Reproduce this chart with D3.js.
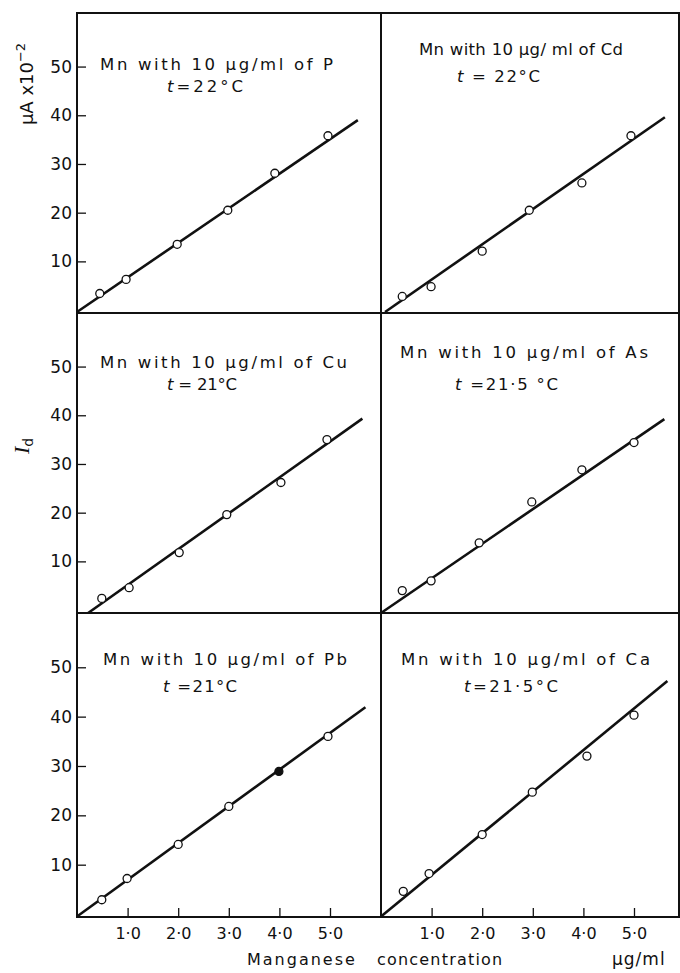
<!DOCTYPE html>
<html>
<head>
<meta charset="utf-8">
<script src="https://d3js.org/d3.v7.min.js"></script>
<style>
  body { margin: 0; background: #fff; }
  text { font-family: "DejaVu Sans", sans-serif; fill: #111; }
</style>
</head>
<body>
<div id="chart"></div>
<script>
  // data
  var elements = ["P", "Cd", "Cu", "As", "Pb", "Ca"];
  var titles = ["Mn with 10 \u00b5g/ml of P", "Mn with 10 \u00b5g/ ml of Cd", "Mn with 10 \u00b5g/ml of Cu",
                "Mn with 10 \u00b5g/ml of As", "Mn with 10 \u00b5g/ml of Pb", "Mn with 10 \u00b5g/ml of Ca"];
  var temps = ["=22\u00b0C", " = 22\u00b0C", " = 21\u00b0C", " =21\u00b75 \u00b0C", " =21\u00b0C", "=21\u00b75\u00b0C"];

  var concP  = [0.45, 0.97, 1.98, 2.98, 3.91, 4.96];
  var concCd = [0.42, 0.99, 2.00, 2.93, 3.97, 4.94];
  var concCu = [0.49, 1.03, 2.02, 2.96, 4.03, 4.94];
  var concAs = [0.42, 0.99, 1.94, 2.98, 3.97, 5.00];
  var concPb = [0.49, 0.99, 2.00, 3.00, 3.99, 4.96];
  var concCa = [0.44, 0.95, 2.00, 2.99, 4.07, 5.00];

  var idP  = [3.4, 6.3, 13.5, 20.5, 28.1, 35.8];
  var idCd = [2.8, 4.8, 12.1, 20.5, 26.1, 35.8];
  var idCu = [2.4, 4.6, 11.8, 19.6, 26.2, 35.0];
  var idAs = [4.0, 6.0, 13.8, 22.2, 28.8, 34.4];
  var idPb = [2.9, 7.2, 14.1, 21.8, 28.9, 36.0];
  var idCa = [4.6, 8.2, 16.1, 24.7, 32.0, 40.3];

  // fitted line, start and end points [conc, Id]
  var lineP  = [[0, -0.4], [5.55, 39.0]];
  var lineCd = [[0.08, -0.4], [5.61, 39.6]];
  var lineCu = [[0.22, -0.6], [5.64, 39.3]];
  var lineAs = [[0, -0.6], [5.60, 39.2]];
  var linePb = [[0, -0.5], [5.70, 41.9]];
  var lineCa = [[0, -0.5], [5.66, 47.2]];

  var filledPb = [false, false, false, false, true, false];

  var concs = [concP, concCd, concCu, concAs, concPb, concCa];
  var ids = [idP, idCd, idCu, idAs, idPb, idCa];
  var fits = [lineP, lineCd, lineCu, lineAs, linePb, lineCa];

  var yTicks = [10, 20, 30, 40, 50];
  var xTicks = [1, 2, 3, 4, 5];
  var xTickLabels = ["1\u00b70", "2\u00b70", "3\u00b70", "4\u00b70", "5\u00b70"];

  // layout
  var colLeft = [77, 381], colW = [304, 298];
  var rowTop = [13, 313, 613], rowH = [300, 300, 304];
  var pxPerUnit = 50.6;
  // title offsets inside each panel: [x1, base1, w1, x2, base2, w2]
  var titlePos = [
    [23, 57, 233, 90, 79, 76],
    [38, 42, 204, 76, 69, 83],
    [23, 55, 247, 90, 77, 70],
    [19, 45, 248, 74, 77, 103],
    [26, 52, 244, 86, 79, 74],
    [20, 52, 249, 83, 79, 94]
  ];

  var svg = d3.select("#chart")
    .append("svg")
      .attr("width", 680)
      .attr("height", 973);

  elements.forEach(function(el, i) {
    var col = i % 2, row = Math.floor(i / 2);
    var w = colW[col], h = rowH[row];

    var x_scale = d3.scaleLinear()
      .domain([0, w / pxPerUnit])
      .range([0, w]);
    var y_scale = d3.scaleLinear()
      .domain([-0.6, 61])
      .range([h, 0]);

    var g = svg.append("g")
      .attr("transform", "translate(" + colLeft[col] + "," + rowTop[row] + ")");

    // y axis only in left column
    if (col == 0) {
      var y_axis = d3.axisLeft(y_scale)
        .tickValues(yTicks)
        .tickSizeInner(-9)
        .tickSizeOuter(0)
        .tickPadding(5)
        .tickFormat(d3.format("d"));
      var ya = g.append("g").call(y_axis);
      ya.select(".domain").remove();
      ya.selectAll("line").attr("stroke", "#111").attr("stroke-width", 1.3);
      ya.selectAll("text").attr("font-size", 17).attr("fill", "#111")
        .style("font-family", "'DejaVu Sans', sans-serif");
    }

    // x axis only in bottom row
    if (row == 2) {
      var x_axis = d3.axisBottom(x_scale)
        .tickValues(xTicks)
        .tickSizeInner(-9)
        .tickSizeOuter(0)
        .tickPadding(11)
        .tickFormat(function(d, k) { return xTickLabels[k]; });
      var xa = g.append("g")
        .attr("transform", "translate(0," + h + ")")
        .call(x_axis);
      xa.select(".domain").remove();
      xa.selectAll("line").attr("stroke", "#111").attr("stroke-width", 1.3);
      xa.selectAll("text").attr("font-size", 16).attr("fill", "#111")
        .style("font-family", "'DejaVu Sans', sans-serif");
    }

    // frame
    g.append("rect")
      .attr("x", 0).attr("y", 0)
      .attr("width", w).attr("height", h)
      .attr("fill", "none")
      .attr("stroke", "#111")
      .attr("stroke-width", 2);

    // fitted line
    g.append("path")
      .datum(fits[i])
      .attr("d", d3.line()
        .x(function(d) { return x_scale(d[0]); })
        .y(function(d) { return y_scale(d[1]); }))
      .attr("fill", "none")
      .attr("stroke", "#111")
      .attr("stroke-width", 2.6);

    // points
    var pts = concs[i].map(function(c, k) {
      return { c: c, id: ids[i][k], filled: el == "Pb" && filledPb[k] };
    });
    g.append("g")
      .selectAll("circle")
      .data(pts)
      .enter()
      .append("circle")
        .attr("cx", function(d) { return x_scale(d.c); })
        .attr("cy", function(d) { return y_scale(d.id); })
        .attr("r", 4)
        .attr("fill", function(d) { return d.filled ? "#111" : "#fff"; })
        .attr("stroke", "#111")
        .attr("stroke-width", 1.3);

    // title
    var tp = titlePos[i];
    g.append("text")
      .attr("x", tp[0]).attr("y", tp[1])
      .attr("font-size", 16.5)
      .attr("textLength", tp[2])
      .attr("lengthAdjust", "spacing")
      .text(titles[i]);
    var t2 = g.append("text")
      .attr("x", tp[3]).attr("y", tp[4])
      .attr("font-size", 16.5)
      .attr("textLength", tp[5])
      .attr("lengthAdjust", "spacing");
    t2.append("tspan").attr("font-style", "italic").text("t");
    t2.append("tspan").text(temps[i]);
  });

  // y label, upper
  var yl = svg.append("text")
    .attr("transform", "translate(33,84) rotate(-90)")
    .attr("text-anchor", "middle")
    .attr("font-size", 18);
  yl.append("tspan").text("\u00b5A x10");
  yl.append("tspan").attr("dy", -8).attr("font-size", 13).text("\u22122");

  // y label, middle: I_d
  var yl2 = svg.append("text")
    .attr("transform", "translate(29,446) rotate(-90)")
    .attr("text-anchor", "middle");
  yl2.append("tspan")
    .style("font-family", "'Liberation Serif', serif")
    .attr("font-style", "italic")
    .attr("font-size", 22)
    .text("I");
  yl2.append("tspan").attr("dy", 4).attr("font-size", 14).text("d");

  // x label
  svg.append("text")
    .attr("x", 247).attr("y", 965)
    .attr("font-size", 16)
    .attr("letter-spacing", 2)
    .text("Manganese");
  svg.append("text")
    .attr("x", 377).attr("y", 965)
    .attr("font-size", 16)
    .attr("letter-spacing", 1.2)
    .text("concentration");
  svg.append("text")
    .attr("x", 612).attr("y", 965)
    .attr("font-size", 17)
    .attr("letter-spacing", 1)
    .text("\u00b5g/ml");
</script>
</body>
</html>
